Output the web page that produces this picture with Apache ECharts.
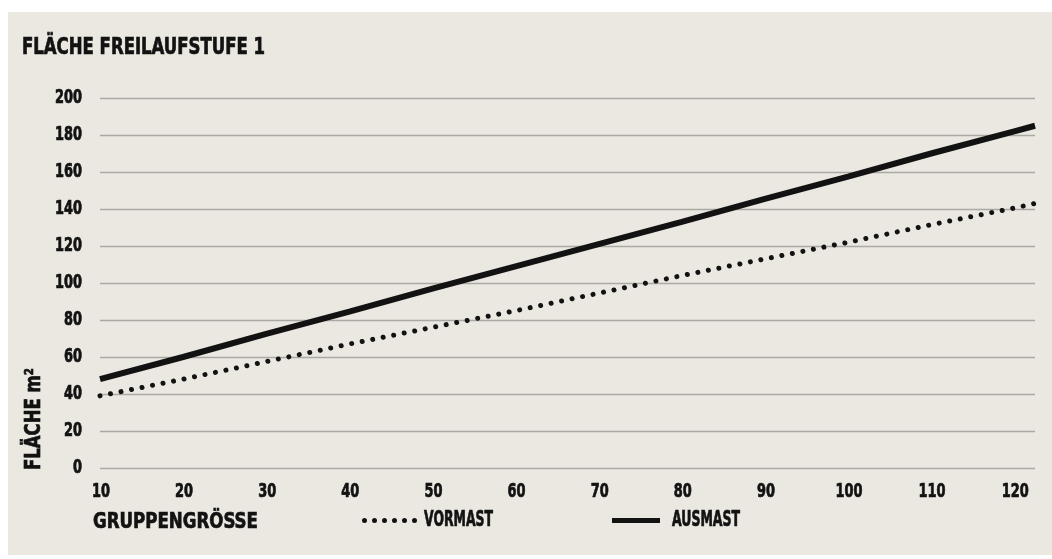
<!DOCTYPE html>
<html>
<head>
<meta charset="utf-8">
<script src="https://cdn.jsdelivr.net/npm/echarts@6/dist/echarts.min.js"></script>
<style>
  html, body { margin: 0; padding: 0; background: #ffffff; }
  #chart { width: 1052px; height: 559px; }
</style>
</head>
<body>
<div id="chart"></div>
<script>
// Gruppengröße (Tiere) entlang der x-Achse
const gruppengroesse = [10, 20, 30, 40, 50, 60, 70, 80, 90, 100, 110, 120, 122.5];
// Fläche in m² je Gruppengröße
const vormast = [39, 48, 57.5, 67, 76, 85, 94.5, 104, 113, 122, 131.5, 140.5, 143];
const ausmast = [48, 60, 72.5, 84.5, 97, 109, 121, 133, 145.5, 157.5, 170, 182, 185];
// Achsenbeschriftungen
const yTickLabels = [0, 20, 40, 60, 80, 100, 120, 140, 160, 180, 200];
const xTickLabels = [10, 20, 30, 40, 50, 60, 70, 80, 90, 100, 110, 120];
const seriesNames = ['VORMAST', 'AUSMAST'];

const FAMILY = "'DejaVu Sans Condensed', 'Liberation Sans Narrow', sans-serif";
const INK = '#121212';

// condensed look: squeeze text horizontally to a wanted width
const measureCtx = document.createElement('canvas').getContext('2d');
function squeeze(text, px, width) {
  measureCtx.font = 'bold ' + px + 'px ' + FAMILY;
  return width / measureCtx.measureText(text).width;
}
function label(text, px, x, y, align, sx, extra) {
  return Object.assign({
    type: 'text', x: x, y: y, scaleX: sx, silent: true, z: 10,
    style: {
      text: text, font: 'bold ' + px + 'px ' + FAMILY, fill: INK,
      stroke: INK, lineWidth: 0.7,
      textAlign: align, textVerticalAlign: 'middle'
    }
  }, extra || {});
}

const chart = echarts.init(document.getElementById('chart'), null, { renderer: 'canvas' });
const pairs = (xs, ys) => xs.map((x, i) => [x, ys[i]]);

// six dots for the dotted legend key
const dotsPath = 'path://' + [0, 1, 2, 3, 4, 5].map(i => {
  const cx = 2.5 + i * 10;
  return 'M' + (cx - 2.5) + ',2.5a2.5,2.5 0 1,0 5,0a2.5,2.5 0 1,0 -5,0Z';
}).join('');

chart.setOption({
  backgroundColor: '#ffffff',
  animation: false,
  legend: [
    {
      left: 362, top: 518, padding: 0,
      itemWidth: 55, itemHeight: 5,
      data: [{ name: seriesNames[0], icon: dotsPath }],
      itemStyle: { color: INK },
      formatter: () => '',
      textStyle: { fontSize: 1 }
    },
    {
      left: 612, top: 518, padding: 0,
      itemWidth: 48, itemHeight: 5,
      data: [{ name: seriesNames[1], icon: 'rect' }],
      itemStyle: { color: INK },
      formatter: () => '',
      textStyle: { fontSize: 1 }
    }
  ],
  grid: { left: 100, right: 17, top: 98, bottom: 91, containLabel: false },
  xAxis: {
    type: 'value', min: 10, max: 122.5, interval: 10,
    axisLine: { show: false }, axisTick: { show: false },
    splitLine: { show: false }, axisLabel: { show: false }
  },
  yAxis: {
    type: 'value', min: 0, max: 200, interval: 20,
    axisLine: { show: false }, axisTick: { show: false },
    splitLine: { lineStyle: { color: '#aba9a3', width: 1.3 } },
    axisLabel: { show: false }
  },
  series: [
    {
      name: seriesNames[0], type: 'line',
      data: pairs(gruppengroesse, vormast),
      showSymbol: false, symbol: 'none',
      lineStyle: { color: INK, width: 5, type: [0.01, 10.7], cap: 'round' },
      itemStyle: { color: INK }
    },
    {
      name: seriesNames[1], type: 'line',
      data: pairs(gruppengroesse, ausmast),
      showSymbol: false, symbol: 'none',
      lineStyle: { color: INK, width: 6, cap: 'butt' },
      itemStyle: { color: INK }
    }
  ]
});

// texts placed through the axes' own scales
const digitScale = squeeze('0', 19, 9);
const yLabels = yTickLabels.map(v => {
  const py = chart.convertToPixel({ yAxisIndex: 0 }, v);
  return label(String(v), 19, 82, py, 'right', digitScale);
});
const xLabels = xTickLabels.map(v => {
  const px = chart.convertToPixel({ xAxisIndex: 0 }, v);
  return label(String(v), 19, px + 1, 492, 'center', digitScale);
});

const title = 'FLÄCHE FREILAUFSTUFE 1';
const xName = 'GRUPPENGRÖSSE';
const yName = 'FLÄCHE m²';

chart.setOption({
  graphic: [
    {
      type: 'rect', z: -10, silent: true,
      shape: { x: 8, y: 12, width: 1044, height: 543 },
      style: { fill: '#ebe8e2' }
    },
    label(title, 23, 22, 48, 'left', squeeze(title, 23, 243)),
    label(xName, 22, 93, 522, 'left', squeeze(xName, 22, 165)),
    label(seriesNames[0], 21, 424, 521, 'left', squeeze(seriesNames[0], 21, 69)),
    label(seriesNames[1], 21, 672, 521, 'left', squeeze(seriesNames[1], 21, 68)),
    label(yName, 22, 34, 470, 'left', squeeze(yName, 22, 102), { rotation: Math.PI / 2 })
  ].concat(yLabels, xLabels)
});
</script>
</body>
</html>
